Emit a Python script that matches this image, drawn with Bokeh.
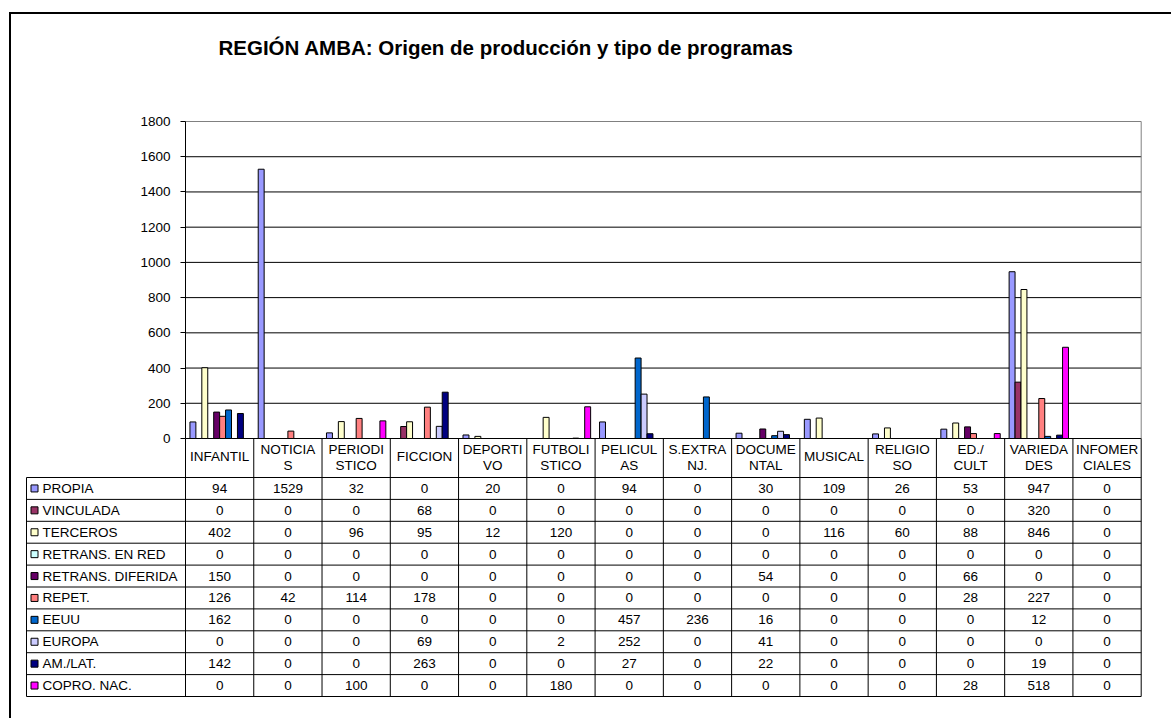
from bokeh.plotting import figure
from bokeh.layouts import column
from bokeh.models import Range1d, FixedTicker, ColumnDataSource, LinearAxis
from bokeh.core.properties import value
from bokeh.embed import file_html
from bokeh.resources import INLINE

# ---------------- data ----------------
title_text = "REGIÓN AMBA: Origen de producción y tipo de programas"
categories = ["INFANTIL", "NOTICIAS", "PERIODISTICO", "FICCION", "DEPORTIVO", "FUTBOLISTICO",
              "PELICULAS", "S.EXTRANJ.", "DOCUMENTAL", "MUSICAL", "RELIGIOSO", "ED./CULT",
              "VARIEDADES", "INFOMERCIALES"]
header_lines = [["INFANTIL"], ["NOTICIA", "S"], ["PERIODI", "STICO"], ["FICCION"],
                ["DEPORTI", "VO"], ["FUTBOLI", "STICO"], ["PELICUL", "AS"], ["S.EXTRA", "NJ."],
                ["DOCUME", "NTAL"], ["MUSICAL"], ["RELIGIO", "SO"], ["ED./", "CULT"],
                ["VARIEDA", "DES"], ["INFOMER", "CIALES"]]
series_names = ["PROPIA", "VINCULADA", "TERCEROS", "RETRANS. EN RED", "RETRANS. DIFERIDA",
                "REPET.", "EEUU", "EUROPA", "AM./LAT.", "COPRO. NAC."]
series_colors = ["#9999FF", "#993366", "#FFFFCC", "#CCFFFF", "#660066",
                 "#FF8080", "#0066CC", "#CCCCFF", "#000080", "#FF00FF"]

propia      = [94, 1529, 32, 0, 20, 0, 94, 0, 30, 109, 26, 53, 947, 0]
vinculada   = [0, 0, 0, 68, 0, 0, 0, 0, 0, 0, 0, 0, 320, 0]
terceros    = [402, 0, 96, 95, 12, 120, 0, 0, 0, 116, 60, 88, 846, 0]
retrans_red = [0, 0, 0, 0, 0, 0, 0, 0, 0, 0, 0, 0, 0, 0]
retrans_dif = [150, 0, 0, 0, 0, 0, 0, 0, 54, 0, 0, 66, 0, 0]
repet       = [126, 42, 114, 178, 0, 0, 0, 0, 0, 0, 0, 28, 227, 0]
eeuu        = [162, 0, 0, 0, 0, 0, 457, 236, 16, 0, 0, 0, 12, 0]
europa      = [0, 0, 0, 69, 0, 2, 252, 0, 41, 0, 0, 0, 0, 0]
amlat       = [142, 0, 0, 263, 0, 0, 27, 0, 22, 0, 0, 0, 19, 0]
copro       = [0, 0, 100, 0, 0, 180, 0, 0, 0, 0, 0, 28, 518, 0]
series_values = [propia, vinculada, terceros, retrans_red, retrans_dif,
                 repet, eeuu, europa, amlat, copro]
y_ticks = [0, 200, 400, 600, 800, 1000, 1200, 1400, 1600, 1800]

# ---------------- layout constants (page pixels) ----------------
FONT = value("Liberation Sans")
OX, OY = 11, 14               # page position of the figure canvas
W, H = 1160, 704
AX_X, RIGHT_X = 185, 1140.7   # plot area left / right
ZERO_Y, TOP_Y = 438, 121      # value 0 / value max
HEAD_BOT = 477                # bottom of table header
ROW_H = 21.9
LEG_X = 26                    # left edge of legend column

N = len(categories)
S = len(series_names)
YMAX = y_ticks[-1]
COLW = (RIGHT_X - AX_X) / N
K = (ZERO_Y - TOP_Y) / YMAX
SLOT = 1 / 11.5               # Excel: 10 bars + 150% gap

def tab(py):                  # page y -> table row units
    return (py - HEAD_BOT) / ROW_H

p = figure(width=W, height=H,
           x_range=Range1d((OX - AX_X) / COLW, (OX + W - AX_X) / COLW),
           y_range=Range1d(-(OY + H - ZERO_Y) / K, (ZERO_Y - OY) / K),
           min_border=0, x_axis_location=None, y_axis_location=None,
           toolbar_location=None, output_backend="svg", outline_line_color=None)
p.extra_y_ranges = {"tab": Range1d(tab(OY + H), tab(OY)),
                    "pxy": Range1d(OY + H, OY)}
p.extra_x_ranges = {"pxx": Range1d(OX, OX + W)}
p.grid.visible = False

# ---- title ----
p.text(x=[218], y=[47], text=[title_text], x_range_name="pxx", y_range_name="pxy",
       text_font=FONT, text_font_size="20.5px", text_font_style="bold",
       text_baseline="middle", text_align="left", text_color="black")

# ---- gridlines (black) and plot-area border (gray) ----
gy = y_ticks[:-1]
p.segment(x0=[0] * len(gy), y0=gy, x1=[N] * len(gy), y1=gy, line_color="black", line_width=1)
p.segment(x0=[0, N], y0=[YMAX, 0], x1=[N, N], y1=[YMAX, YMAX], line_color="#808080", line_width=1)

# ---- bars ----
bx, btop, bcol = [], [], []
for j, vals in enumerate(series_values):
    for i, v in enumerate(vals):
        if v > 0:
            bx.append(i + (1.25 + j) * SLOT)
            btop.append(v)
            bcol.append(series_colors[j])
p.vbar(x="x", top="top", bottom=0, width=SLOT, fill_color="color", line_color="black",
       line_width=1, source=ColumnDataSource(dict(x=bx, top=btop, color=bcol)))

# ---- y axis ----
yaxis = LinearAxis(fixed_location=0, bounds=(0, YMAX), ticker=FixedTicker(ticks=y_ticks))
yaxis.minor_tick_line_color = None
yaxis.major_tick_in = 0
yaxis.major_tick_out = 5
yaxis.major_tick_line_color = "black"
yaxis.axis_line_color = "black"
yaxis.major_label_text_font = "Liberation Sans"
yaxis.major_label_text_font_size = "13.5px"
yaxis.major_label_text_color = "black"
yaxis.major_label_standoff = 10
p.add_layout(yaxis, "left")

# ---- table ----
L0 = (LEG_X - AX_X) / COLW
head_top = tab(ZERO_Y)
p.segment(x0=[L0] * (S + 1), y0=list(range(S + 1)), x1=[N] * (S + 1), y1=list(range(S + 1)),
          line_color="black", line_width=1, y_range_name="tab")
p.segment(x0=[L0], y0=[0], x1=[L0], y1=[S], line_color="black", line_width=1, y_range_name="tab")
p.segment(x0=list(range(N + 1)), y0=[head_top] * (N + 1), x1=list(range(N + 1)), y1=[S] * (N + 1),
          line_color="black", line_width=1, y_range_name="tab")

hx, hy, ht = [], [], []
for i, lines in enumerate(header_lines):
    if len(lines) == 1:
        hx.append(i + 0.5); hy.append(tab(456)); ht.append(lines[0])
    else:
        hx += [i + 0.5, i + 0.5]; hy += [tab(449), tab(465)]; ht += lines
p.text(x=hx, y=hy, text=ht, y_range_name="tab", text_font=FONT, text_font_size="13.5px",
       text_align="center", text_baseline="middle", text_color="black")

tx, ty, tt = [], [], []
for j, vals in enumerate(series_values):
    for i, v in enumerate(vals):
        tx.append(i + 0.5)
        ty.append(j + 0.5)
        tt.append(str(v))
p.text(x=tx, y=ty, text=tt, y_range_name="tab", text_font=FONT, text_font_size="13.5px",
       text_align="center", text_baseline="middle", text_color="black")

p.rect(x=[L0 + 8 / COLW] * S, y=[j + 0.5 for j in range(S)], width=7, height=7,
       width_units="screen", height_units="screen", fill_color=series_colors,
       line_color="black", line_width=1, y_range_name="tab")
p.text(x=[L0 + 16 / COLW] * S, y=[j + 0.5 for j in range(S)], text=series_names,
       y_range_name="tab", text_font=FONT, text_font_size="13.5px", text_align="left",
       text_baseline="middle", text_color="black")

layout = column(p, spacing=0,
                styles={"margin-left": "9px", "margin-top": "12px",
                        "border-top": "2px solid black", "border-left": "2px solid black"})

open("out.html", "w").write(file_html(layout, INLINE))
